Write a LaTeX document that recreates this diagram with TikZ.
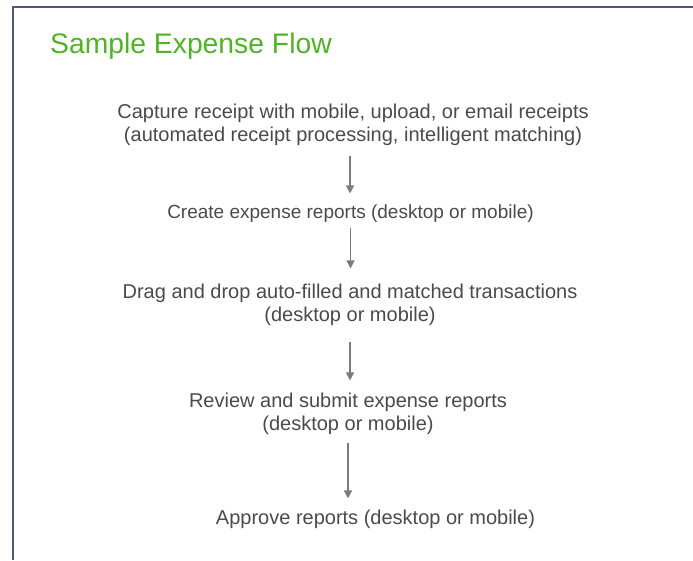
\documentclass[tikz,border=0pt]{standalone}
\usepackage{fontspec}
\setmainfont{Liberation Sans}
\usetikzlibrary{arrows.meta}

\definecolor{framegray}{HTML}{4B5870}
\definecolor{titlegreen}{HTML}{4FB424}
\definecolor{textgray}{HTML}{4A4A4A}
\definecolor{arrowgray}{HTML}{7C7C7C}

\tikzset{
    stage/.style={text=textgray, align=center, font=\fontsize{20}{23}\selectfont, inner sep=0pt},
    flow/.style={draw=arrowgray, line width=1.2pt, -{Triangle[length=8pt,width=8pt]}}
}

\begin{document}
\begin{tikzpicture}[x=1pt,y=-1pt]
    \useasboundingbox (0,0) rectangle (693,560);
    % frame (only the top and left edges show)
    \draw[framegray, line width=2pt] (693,6.5) -- (12.5,6.5) -- (12.5,560);

    \node [anchor=west, text=titlegreen, font=\fontsize{28.3}{32}\selectfont, inner sep=0pt] (title) at (50,46) {Sample Expense Flow};

    \node [stage] (capture) at (353,124.5) {Capture receipt with mobile, upload, or email receipts\\(automated receipt processing, intelligent matching)};
    \node [stage, font=\fontsize{19}{23}\selectfont] (create) at (350.5,214) {Create expense reports (desktop or mobile)};
    \node [stage] (drag) at (350,304.5) {Drag and drop auto-filled and matched transactions\\(desktop or mobile)};
    \node [stage] (review) at (348,413.5) {Review and submit expense reports\\(desktop or mobile)};
    \node [stage] (approve) at (375.5,519) {Approve reports (desktop or mobile)};

    \draw[flow] ([xshift=-3pt,yshift=-10pt]capture.south) -- ([xshift=-3pt,yshift=11.5pt]capture.south |- create.north);
    \draw[flow] ([yshift=-5pt]create.south) -- ([yshift=15pt]create.south |- drag.north);
    \draw[flow] ([yshift=-16pt]drag.south) -- ([yshift=12pt]drag.south |- review.north);
    \draw[flow] ([yshift=-8pt]review.south) -- ([yshift=11pt]review.south |- approve.north);
\end{tikzpicture}
\end{document}
